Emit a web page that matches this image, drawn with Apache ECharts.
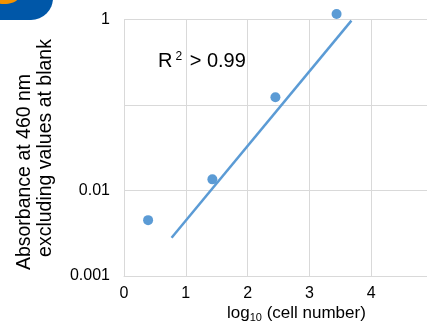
<!DOCTYPE html>
<html>
<head>
<meta charset="utf-8">
<script src="https://cdn.jsdelivr.net/npm/echarts@6/dist/echarts.min.js"></script>
<style>
  html, body { margin: 0; padding: 0; background: #fff; }
  #chart { width: 427px; height: 327px; }
</style>
</head>
<body>
<div id="chart"></div>
<script>
// log10 cell number vs absorbance
const cellLog = [0.39, 1.43, 2.45, 3.44];
const absorbance = [0.0045, 0.0135, 0.123, 1.16];

// fitted trend line ends
const trendX = [0.77, 3.68];
const trendY = [0.0028, 0.97];

const xTicks = [0, 1, 2, 3, 4, 5];
const yTickLabels = { 1: "1", 0.1: "", 0.01: "0.01", 0.001: "0.001" };

const chart = echarts.init(document.getElementById("chart"));

const font = "Liberation Sans, Arial, sans-serif";

const option = {
  animation: false,
  grid: {
    left: 124,
    top: 19.5,
    right: -6,
    bottom: 51,
    outerBoundsMode: "none",
  },
  xAxis: {
    type: "value",
    min: xTicks[0],
    max: xTicks[xTicks.length - 1],
    interval: 1,
    axisLine: { show: true, lineStyle: { color: "#d9d9d9" } },
    axisTick: { show: false },
    splitLine: { show: true, lineStyle: { color: "#d9d9d9", width: 1 } },
    axisLabel: { color: "#000", fontSize: 16, fontFamily: font, margin: 10 },
  },
  yAxis: {
    type: "log",
    logBase: 10,
    min: 0.001,
    max: 1,
    axisLine: { show: true, lineStyle: { color: "#d9d9d9" } },
    axisTick: { show: false },
    splitLine: { show: true, lineStyle: { color: "#d9d9d9", width: 1 } },
    axisLabel: {
      color: "#000",
      fontSize: 16,
      fontFamily: font,
      margin: 14,
      formatter: (v) => {
        const key = Object.keys(yTickLabels).find((k) => Math.abs(Math.log10(+k) - Math.log10(v)) < 1e-6);
        return key !== undefined ? yTickLabels[key] : "";
      },
    },
  },
  series: [
    {
      type: "line",
      data: trendX.map((x, i) => [x, trendY[i]]),
      symbol: "none",
      lineStyle: { color: "#5b9bd5", width: 2.5 },
      z: 2,
    },
    {
      type: "scatter",
      data: cellLog.map((x, i) => [x, absorbance[i]]),
      symbolSize: 10,
      clip: false,
      itemStyle: { color: "#5b9bd5", opacity: 1 },
      z: 3,
    },
  ],
  graphic: [
    // cropped logo in the corner
    {
      type: "rect",
      shape: { x: -60, y: -40, width: 113, height: 60, r: [0, 0, 22, 0] },
      style: { fill: "#0057a8" },
    },
    {
      type: "ellipse",
      shape: { cx: 4, cy: -2, rx: 14, ry: 6 },
      style: { fill: "#f39200" },
    },
    {
      type: "text",
      left: 158,
      top: 51,
      style: {
        text: "{a|R}{s|2}{a| > 0.99}",
        rich: {
          a: { fontSize: 20, fontFamily: font, fill: "#000" },
          s: { fontSize: 12, fontFamily: font, fill: "#000", verticalAlign: "top", padding: [0, 2, 8, 3] },
        },
      },
    },
    {
      type: "text",
      left: 227,
      top: 305,
      style: {
        text: "{a|log}{s|10}{a| (cell number)}",
        rich: {
          a: { fontSize: 17, fontFamily: font, fill: "#000" },
          s: { fontSize: 11, fontFamily: font, fill: "#000", padding: [8, 0, 0, 0] },
        },
      },
    },
    {
      type: "text",
      x: 25,
      y: 172,
      rotation: Math.PI / 2,
      style: {
        text: "Absorbance at 460 nm",
        fontSize: 19.5,
        fontFamily: font,
        fill: "#000",
        align: "center",
        verticalAlign: "middle",
      },
    },
    {
      type: "text",
      x: 46,
      y: 148,
      rotation: Math.PI / 2,
      style: {
        text: "excluding values at blank",
        fontSize: 19.5,
        fontFamily: font,
        fill: "#000",
        align: "center",
        verticalAlign: "middle",
      },
    },
  ],
};

chart.setOption(option);
</script>
</body>
</html>
